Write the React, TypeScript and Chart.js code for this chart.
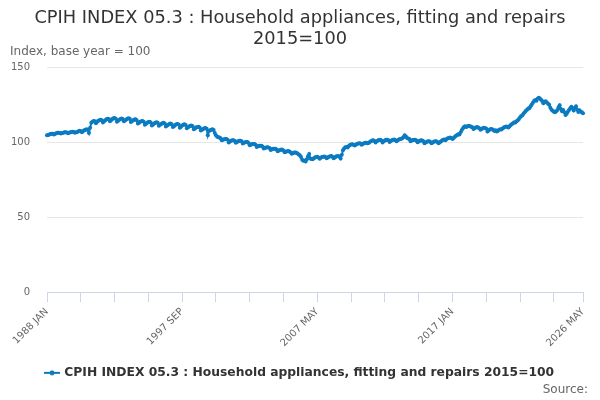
import React, { useEffect, useRef } from 'react';
import { Chart, registerables } from 'chart.js';

Chart.register(...registerables);

const TITLE = ['CPIH INDEX 05.3 : Household appliances, fitting and repairs', '2015=100'];
const SERIES_NAME = 'CPIH INDEX 05.3 : Household appliances, fitting and repairs 2015=100';
const Y_TITLE = 'Index, base year = 100';
const MONTHS = ['JAN', 'FEB', 'MAR', 'APR', 'MAY', 'JUN', 'JUL', 'AUG', 'SEP', 'OCT', 'NOV', 'DEC'];
const FIRST_YEAR = 1988;

// monthly index values, one row per year
const y1988 = [104.5, 104.8, 105.1, 105.4, 105.6, 105.5, 105.0, 105.6, 105.9, 106.2, 106.3, 106.1];
const y1989 = [105.7, 106.0, 106.3, 106.5, 106.6, 106.4, 105.9, 106.3, 106.6, 106.8, 106.9, 106.7];
const y1990 = [106.2, 106.5, 106.8, 107.2, 107.5, 107.3, 106.6, 107.4, 107.9, 108.3, 108.6, 108.2];
const y1991 = [106.0, 109.5, 112.8, 113.6, 114.0, 113.8, 112.6, 113.5, 114.2, 114.6, 114.9, 114.5];
const y1992 = [113.0, 113.9, 114.6, 115.2, 115.6, 115.3, 113.9, 114.6, 115.3, 115.8, 116.0, 115.6];
const y1993 = [113.6, 114.2, 114.9, 115.4, 115.7, 115.4, 113.8, 114.4, 115.1, 115.6, 115.9, 115.5];
const y1994 = [113.4, 114.0, 114.6, 115.0, 115.2, 114.6, 112.4, 112.9, 113.5, 113.9, 114.1, 113.6];
const y1995 = [111.6, 112.2, 112.8, 113.3, 113.5, 113.0, 111.1, 111.7, 112.4, 112.9, 113.2, 112.8];
const y1996 = [110.8, 111.5, 112.1, 112.6, 112.8, 112.4, 110.4, 111.0, 111.6, 112.0, 112.3, 111.9];
const y1997 = [110.0, 110.6, 111.3, 111.8, 112.1, 111.7, 109.6, 110.3, 111.0, 111.5, 111.8, 111.3];
const y1998 = [109.3, 109.9, 110.4, 110.8, 111.0, 110.5, 108.6, 109.1, 109.7, 110.1, 110.3, 109.8];
const y1999 = [107.8, 108.3, 108.8, 109.2, 109.4, 108.9, 104.5, 107.4, 107.9, 108.3, 108.5, 108.0];
const y2000 = [106.0, 104.5, 103.5, 103.2, 103.0, 102.6, 101.2, 101.6, 101.9, 102.1, 102.0, 101.6];
const y2001 = [99.8, 100.4, 100.9, 101.2, 101.3, 100.9, 99.6, 100.1, 100.6, 100.9, 100.9, 100.5];
const y2002 = [99.0, 99.5, 99.9, 100.1, 100.0, 99.4, 97.9, 98.3, 98.7, 98.8, 98.7, 98.2];
const y2003 = [96.8, 97.2, 97.5, 97.6, 97.5, 97.0, 95.7, 96.1, 96.4, 96.5, 96.4, 96.0];
const y2004 = [94.8, 95.2, 95.5, 95.6, 95.5, 95.0, 93.9, 94.4, 94.8, 95.0, 94.9, 94.4];
const y2005 = [93.2, 93.6, 93.9, 94.0, 93.8, 93.3, 92.2, 92.6, 93.0, 93.1, 92.9, 92.4];
const y2006 = [91.8, 91.2, 90.0, 88.2, 87.5, 87.8, 87.0, 88.6, 90.5, 92.0, 89.0, 88.8];
const y2007 = [88.6, 89.3, 89.8, 90.1, 90.2, 89.8, 88.9, 89.5, 90.0, 90.3, 90.4, 90.0];
const y2008 = [89.2, 89.8, 90.3, 90.6, 90.7, 90.3, 89.3, 89.8, 90.4, 90.6, 90.7, 90.2];
const y2009 = [89.0, 91.5, 94.5, 95.8, 96.5, 96.8, 96.4, 97.4, 98.0, 98.4, 98.6, 98.3];
const y2010 = [97.8, 98.3, 98.8, 99.1, 99.3, 99.0, 98.2, 98.7, 99.2, 99.5, 99.6, 99.3];
const y2011 = [99.4, 100.0, 100.6, 101.0, 101.2, 100.8, 99.8, 100.5, 101.1, 101.4, 101.5, 101.1];
const y2012 = [99.8, 100.5, 101.1, 101.5, 101.6, 101.2, 100.0, 100.7, 101.3, 101.6, 101.7, 101.3];
const y2013 = [100.5, 101.2, 101.8, 102.1, 102.3, 102.6, 103.4, 104.6, 103.8, 102.8, 102.4, 102.0];
const y2014 = [100.6, 101.0, 101.4, 101.6, 101.5, 101.0, 99.9, 100.4, 100.9, 101.2, 101.1, 100.6];
const y2015 = [99.3, 99.8, 100.2, 100.5, 100.5, 100.1, 99.2, 99.8, 100.3, 100.6, 100.6, 100.1];
const y2016 = [99.3, 99.7, 100.4, 101.0, 101.5, 101.7, 101.2, 102.0, 102.5, 102.8, 103.0, 102.7];
const y2017 = [102.0, 102.8, 103.5, 104.2, 104.8, 105.2, 105.0, 106.5, 108.0, 109.2, 110.2, 110.5];
const y2018 = [110.0, 110.6, 110.9, 110.6, 110.3, 109.9, 108.8, 109.3, 109.8, 110.0, 109.8, 109.3];
const y2019 = [108.2, 108.8, 109.3, 109.5, 109.4, 108.9, 107.0, 107.8, 108.4, 108.7, 108.6, 108.1];
const y2020 = [107.4, 107.9, 107.0, 107.6, 108.2, 108.6, 108.4, 109.1, 109.7, 110.1, 110.4, 110.2];
const y2021 = [109.8, 110.6, 111.4, 112.0, 112.6, 113.2, 113.0, 113.8, 114.6, 115.3, 116.5, 117.4];
const y2022 = [117.8, 119.0, 119.8, 120.8, 121.6, 122.4, 122.6, 123.8, 125.0, 126.2, 127.4, 128.0];
const y2023 = [127.6, 128.8, 129.6, 129.0, 128.2, 127.4, 125.8, 126.8, 127.2, 126.4, 125.6, 124.8];
const y2024 = [122.8, 121.6, 120.8, 120.2, 119.8, 120.6, 121.4, 123.2, 124.6, 122.0, 120.6, 121.4];
const y2025 = [119.8, 118.0, 118.8, 120.2, 121.4, 122.6, 123.6, 122.4, 121.0, 122.8, 123.8, 121.6];
const y2026 = [120.0, 121.2, 120.4, 119.8, 119.2];

const values = [
  ...y1988, ...y1989, ...y1990, ...y1991, ...y1992, ...y1993, ...y1994, ...y1995,
  ...y1996, ...y1997, ...y1998, ...y1999, ...y2000, ...y2001, ...y2002, ...y2003,
  ...y2004, ...y2005, ...y2006, ...y2007, ...y2008, ...y2009, ...y2010, ...y2011,
  ...y2012, ...y2013, ...y2014, ...y2015, ...y2016, ...y2017, ...y2018, ...y2019,
  ...y2020, ...y2021, ...y2022, ...y2023, ...y2024, ...y2025, ...y2026,
];

const labels = values.map((_, i) => `${FIRST_YEAR + Math.floor(i / 12)} ${MONTHS[i % 12]}`);

// tick marks on the x axis, and which of them carry a label
const xTickIndices = [0, 29, 58, 87, 116, 145, 174, 203, 232, 261, 290, 319, 348, 377, 406, 435, 460];
const xLabelIndices = [0, 116, 232, 348, 460];
const yTicks = [0, 50, 100, 150];

const LINE_COLOR = '#0b7bc1';
const FONT = 'DejaVu Sans';

function legendSymbol() {
  const c = document.createElement('canvas');
  c.width = 16;
  c.height = 8;
  const ctx = c.getContext('2d');
  if (ctx) {
    ctx.strokeStyle = LINE_COLOR;
    ctx.lineWidth = 2;
    ctx.beginPath();
    ctx.moveTo(0, 4);
    ctx.lineTo(16, 4);
    ctx.stroke();
    ctx.fillStyle = LINE_COLOR;
    ctx.beginPath();
    ctx.arc(8, 4, 2.5, 0, Math.PI * 2);
    ctx.fill();
  }
  return c;
}

// axis caption at the top left and the source note at the bottom right
const notesPlugin = {
  id: 'notes',
  afterDraw(chart: any) {
    const { ctx } = chart;
    ctx.save();
    ctx.font = `12px "${FONT}"`;
    ctx.fillStyle = '#666666';
    ctx.textBaseline = 'middle';
    ctx.textAlign = 'left';
    ctx.fillText(Y_TITLE, 10, 52);
    ctx.textAlign = 'right';
    ctx.fillText('Source:', 588, 390);
    ctx.restore();
  },
};

export default function App() {
  const canvasRef = useRef<HTMLCanvasElement>(null);
  const chartRef = useRef<Chart | null>(null);

  useEffect(() => {
    if (!canvasRef.current) return;
    const ctx = canvasRef.current.getContext('2d');
    if (!ctx) return;

    if (chartRef.current) {
      chartRef.current.destroy();
    }

    chartRef.current = new Chart(ctx, {
      type: 'line',
      data: {
        labels,
        datasets: [
          {
            label: SERIES_NAME,
            data: values,
            borderColor: LINE_COLOR,
            backgroundColor: LINE_COLOR,
            borderWidth: 2,
            pointRadius: 2,
            pointBorderWidth: 0,
            pointStyle: 'circle',
            tension: 0,
          },
        ],
      },
      options: {
        responsive: false,
        animation: false,
        layout: { padding: { left: 0, right: 0, top: 0, bottom: 11 } },
        plugins: {
          title: {
            display: true,
            text: TITLE,
            color: '#333333',
            font: { family: FONT, size: 17.8, weight: 'normal', lineHeight: 1.18 },
            padding: { top: 8, bottom: 17 },
          },
          legend: {
            position: 'bottom',
            labels: {
              usePointStyle: true,
              pointStyle: legendSymbol() as any,
              color: '#333333',
              font: { family: FONT, size: 12.3, weight: 'bold' },
              padding: 14,
            },
          },
          tooltip: { enabled: false },
        },
        scales: {
          x: {
            type: 'category',
            offset: false,
            grid: {
              drawOnChartArea: false,
              drawTicks: true,
              tickLength: 10,
              color: '#ccd6eb',
            },
            border: { display: true, color: '#ccd6eb', width: 1 },
            afterBuildTicks: (scale: any) => {
              scale.ticks = xTickIndices.map((v) => ({ value: v }));
            },
            afterFit: (scale: any) => {
              // fixed side room; the rotated first label hangs into the margin
              scale.paddingLeft = 0;
              scale.paddingRight = 17;
            },
            ticks: {
              autoSkip: false,
              minRotation: 45,
              maxRotation: 45,
              color: '#666666',
              font: { family: FONT, size: 10 },
              padding: 3.5,
              callback: (value: any) => (xLabelIndices.includes(Number(value)) ? labels[Number(value)] : ''),
            },
          },
          y: {
            min: 0,
            max: 150,
            afterBuildTicks: (scale: any) => {
              scale.ticks = yTicks.map((v) => ({ value: v }));
            },
            afterFit: (scale: any) => {
              scale.width = 47;
            },
            grid: { color: '#e6e6e6', drawTicks: false },
            border: { display: false },
            ticks: {
              color: '#666666',
              font: { family: FONT, size: 10 },
              padding: 17,
            },
          },
        },
      },
      plugins: [notesPlugin],
    });

    return () => {
      if (chartRef.current) {
        chartRef.current.destroy();
        chartRef.current = null;
      }
    };
  }, []);

  return (
    <div style={{ position: 'fixed', left: 0, top: 0, width: 600, height: 400, background: '#ffffff' }}>
      <canvas ref={canvasRef} width={600} height={400} />
    </div>
  );
}
